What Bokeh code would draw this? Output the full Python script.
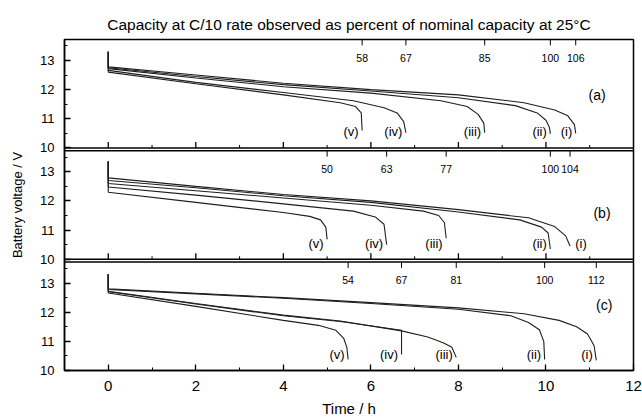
from bokeh.plotting import figure
from bokeh.models import Range1d, FixedTicker, Span
from bokeh.embed import file_html
from bokeh.resources import INLINE
from bokeh.core.properties import value

# ---------------- data ----------------
TITLE = "Capacity at C/10 rate observed as percent of nominal capacity at 25°C"
X_LABEL = "Time / h"
Y_LABEL = "Battery voltage / V"
CURVE_NAMES = ["(i)", "(ii)", "(iii)", "(iv)", "(v)"]
X_TICKS = [0, 2, 4, 6, 8, 10, 12]
X_MINOR = [-1, 1, 3, 5, 7, 9, 11]
Y_TICKS = [10, 11, 12, 13]
Y_MINOR = [10.5, 11.5, 12.5, 13.5]

# percent of nominal capacity, curves (i)..(v)
PCT_A = [106, 100, 85, 67, 58]
PCT_B = [104, 100, 77, 63, 50]
PCT_C = [112, 100, 81, 67, 54]

# panel (a)
a_i_t = [0, 0, 2, 4, 6, 8, 9.5, 10.2, 10.5, 10.65, 10.68]
a_i_v = [13.3, 12.78, 12.5, 12.22, 12.0, 11.82, 11.55, 11.3, 11.1, 10.8, 10.5]
a_ii_t = [0, 0, 2, 4, 6, 8, 9.3, 9.8, 10.0, 10.08, 10.1]
a_ii_v = [13.3, 12.75, 12.45, 12.17, 11.95, 11.72, 11.45, 11.2, 10.95, 10.7, 10.48]
a_iii_t = [0, 0, 2, 4, 6, 7.6, 8.2, 8.45, 8.58, 8.6]
a_iii_v = [13.3, 12.72, 12.4, 12.1, 11.88, 11.62, 11.42, 11.15, 10.85, 10.52]
a_iv_t = [0, 0, 2, 4, 5.6, 6.3, 6.6, 6.75, 6.8]
a_iv_v = [13.3, 12.66, 12.25, 11.9, 11.62, 11.38, 11.2, 10.9, 10.52]
a_v_t = [0, 0, 2, 4, 5.3, 5.65, 5.78, 5.8]
a_v_v = [13.3, 12.6, 12.2, 11.82, 11.55, 11.42, 11.2, 10.6]

# panel (b)
b_i_t = [0, 0, 2, 4, 6, 8, 9.6, 10.2, 10.45, 10.55]
b_i_v = [13.35, 12.79, 12.5, 12.22, 12.0, 11.7, 11.42, 11.12, 10.8, 10.45]
b_ii_t = [0, 0, 2, 4, 6, 8, 9.4, 9.9, 10.05, 10.1]
b_ii_v = [13.35, 12.7, 12.45, 12.18, 11.95, 11.62, 11.35, 11.1, 10.9, 10.35]
b_iii_t = [0, 0, 2, 4, 6, 7.2, 7.55, 7.68, 7.72]
b_iii_v = [13.35, 12.6, 12.35, 12.1, 11.85, 11.65, 11.5, 11.25, 10.72]
b_iv_t = [0, 0, 2, 4, 5.6, 6.1, 6.3, 6.36]
b_iv_v = [13.35, 12.48, 12.2, 11.9, 11.65, 11.45, 11.2, 10.5]
b_v_t = [0, 0, 2, 4, 4.6, 4.85, 4.97, 5.0]
b_v_v = [13.35, 12.3, 11.95, 11.6, 11.47, 11.35, 11.1, 10.68]

# panel (c)
c_i_t = [0, 0, 2, 4, 6, 8, 9.5, 10.3, 10.7, 10.95, 11.1, 11.15]
c_i_v = [13.3, 12.8, 12.65, 12.5, 12.33, 12.15, 11.95, 11.72, 11.5, 11.25, 10.85, 10.35]
c_ii_t = [0, 0, 2, 4, 6, 8, 9.2, 9.6, 9.85, 9.95, 9.97]
c_ii_v = [13.3, 12.78, 12.63, 12.48, 12.3, 12.1, 11.88, 11.65, 11.4, 11.0, 10.38]
c_iii_t = [0, 0, 2, 4, 5.3, 6.7, 7.3, 7.65, 7.85, 7.95]
c_iii_v = [13.3, 12.72, 12.3, 11.9, 11.7, 11.36, 11.15, 10.95, 10.8, 10.45]
c_iv_t = [0, 0, 2, 4, 5.3, 6.7, 6.7]
c_iv_v = [13.3, 12.7, 12.28, 11.88, 11.68, 11.38, 10.55]
c_v_t = [0, 0, 2, 4, 4.8, 5.2, 5.38, 5.45, 5.48]
c_v_v = [13.3, 12.66, 12.2, 11.72, 11.55, 11.38, 11.1, 10.8, 10.38]

# ---------------- layout / style ----------------
FONT = "Liberation Sans"
INK = "#1e1e1e"
V_BASE, V_TOP = 10.0, 13.72          # voltage window of every panel
GAP = 0.10                           # gap between stacked panels (in volts)
SPAN = V_TOP - V_BASE
OFFSETS = {"a": 2 * (SPAN + GAP), "b": SPAN + GAP, "c": 0.0}
TOTAL = 3 * SPAN + 2 * GAP

panels = [
    ("a", "(a)", [a_i_t, a_ii_t, a_iii_t, a_iv_t, a_v_t], [a_i_v, a_ii_v, a_iii_v, a_iv_v, a_v_v], PCT_A, (11.17, 11.8), ()),
    ("b", "(b)", [b_i_t, b_ii_t, b_iii_t, b_iv_t, b_v_t], [b_i_v, b_ii_v, b_iii_v, b_iv_v, b_v_v], PCT_B, (11.28, 11.6), ("(i)",)),
    ("c", "(c)", [c_i_t, c_ii_t, c_iii_t, c_iv_t, c_v_t], [c_i_v, c_ii_v, c_iii_v, c_iv_v, c_v_v], PCT_C, (11.33, 12.25), ()),
]

p = figure(width=642, height=419, x_range=Range1d(-1, 12), y_range=Range1d(0, TOTAL),
           output_backend="svg", toolbar_location=None,
           min_border_left=64, min_border_right=9, min_border_top=39, min_border_bottom=49)
p.extra_y_ranges = {k: Range1d(V_BASE - off, V_BASE - off + TOTAL) for k, off in OFFSETS.items()}
p.grid.visible = False
p.outline_line_color = "black"
p.outline_line_width = 1.5
p.background_fill_color = "white"
p.border_fill_color = "white"

p.title.text = TITLE
p.title.align = "center"
p.title.vertical_align = "top"
p.title.text_font = FONT
p.title.text_font_size = "15.5px"
p.title.text_font_style = "normal"
p.title.text_color = "black"
p.title.standoff = 10

# x axis (bottom of panel c)
xa = p.xaxis[0]
xa.ticker = FixedTicker(ticks=X_TICKS, minor_ticks=X_MINOR)
xa.major_tick_in, xa.major_tick_out = 6, 0
xa.minor_tick_in, xa.minor_tick_out = 3, 0
xa.axis_label = X_LABEL
xa.major_label_standoff = 10
xa.axis_label_standoff = 6

# y axis: voltage ticks of all three panels on the stacked scale
ytick_pos, ylabels, yminor_pos = [], {}, []
for k, off in OFFSETS.items():
    for v in Y_TICKS:
        pos = round(off + v - V_BASE, 4)
        ytick_pos.append(pos)
        ylabels[pos] = str(v)
    for v in Y_MINOR:
        yminor_pos.append(round(off + v - V_BASE, 4))
ya = p.yaxis[0]
ya.ticker = FixedTicker(ticks=sorted(ytick_pos), minor_ticks=sorted(yminor_pos))
ya.major_label_overrides = ylabels
ya.major_tick_in, ya.major_tick_out = 6, 0
ya.minor_tick_in, ya.minor_tick_out = 3, 0
ya.axis_label = Y_LABEL
ya.major_label_standoff = 10
ya.axis_label_standoff = 12

for ax in (xa, ya):
    ax.axis_line_color = "black"
    ax.axis_line_width = 1.5
    ax.major_tick_line_color = "black"
    ax.minor_tick_line_color = "black"
    ax.major_tick_line_width = 1.3
    ax.major_label_text_font = FONT
    ax.axis_label_text_font = FONT
    ax.axis_label_text_font_style = "normal"
    ax.major_label_text_color = "black"
    ax.axis_label_text_color = "black"
xa.major_label_text_font_size = "15px"
xa.axis_label_text_font_size = "15px"
ya.major_label_text_font_size = "13px"
ya.axis_label_text_font_size = "13px"

# panel separators
for k in ("a", "b"):
    off = OFFSETS[k]
    p.add_layout(Span(location=off, dimension="width", line_color="black", line_width=1.5))
    p.add_layout(Span(location=off - GAP, dimension="width", line_color="black", line_width=1.5))

for key, letter, ts, vs, pcts, letter_pos, right_side in panels:
    # inner time ticks at the bottom of panels (a) and (b)
    if key != "c":
        inner = [t for t in X_TICKS if -1 < t < 12]
        inner_minor = [t for t in X_MINOR if -1 < t < 12]
        p.segment(x0=inner, y0=[V_BASE] * len(inner), x1=inner, y1=[V_BASE + 0.2] * len(inner),
                  y_range_name=key, line_color="black", line_width=1.3)
        p.segment(x0=inner_minor, y0=[V_BASE] * len(inner_minor), x1=inner_minor,
                  y1=[V_BASE + 0.1] * len(inner_minor), y_range_name=key, line_color="black", line_width=1)

    ends = []
    for t, v in zip(ts, vs):
        p.line(t, v, y_range_name=key, line_color=INK, line_width=1.1)
        ends.append(t[-1])

    # capacity (percent) ticks along the top of the panel
    p.segment(x0=ends, y0=[V_TOP] * 5, x1=ends, y1=[V_TOP - 0.2] * 5,
              y_range_name=key, line_color="black", line_width=1)
    p.text(x=ends, y=[13.1] * 5, text=[str(q) for q in pcts], y_range_name=key,
           text_font=value(FONT), text_font_size=value("10.5px"), text_align="center",
           text_baseline="middle", text_color="black")

    # curve labels
    lx_left, lt_left, lx_right, lt_right = [], [], [], []
    for name, e in zip(CURVE_NAMES, ends):
        if name in right_side:
            lx_right.append(e + 0.12)
            lt_right.append(name)
        else:
            lx_left.append(e - 0.08)
            lt_left.append(name)
    p.text(x=lx_left, y=[10.55] * len(lx_left), text=lt_left, y_range_name=key,
           text_font=value(FONT), text_font_size=value("13px"), text_align="right",
           text_baseline="middle", text_color="black")
    if lx_right:
        p.text(x=lx_right, y=[10.55] * len(lx_right), text=lt_right, y_range_name=key,
               text_font=value(FONT), text_font_size=value("13px"), text_align="left",
               text_baseline="middle", text_color="black")

    # panel letter
    p.text(x=[letter_pos[0]], y=[letter_pos[1]], text=[letter], y_range_name=key,
           text_font=value(FONT), text_font_size=value("14px"), text_align="center",
           text_baseline="middle", text_color="black")

open("out.html", "w").write(file_html(p, INLINE))
